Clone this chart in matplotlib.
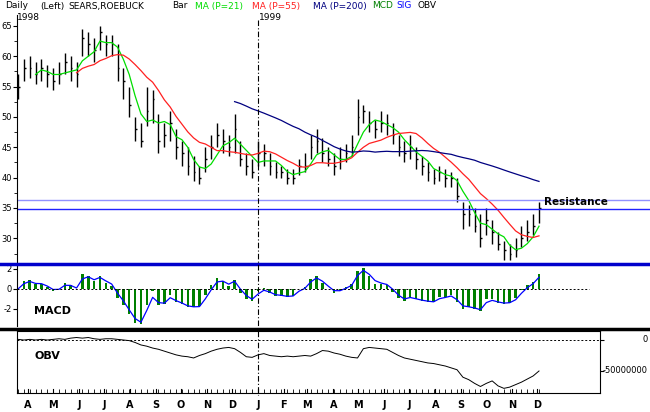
import matplotlib
matplotlib.use("Agg")
import matplotlib.pyplot as plt
import matplotlib.dates as mdates
import numpy as np
import pandas as pd
from matplotlib.lines import Line2D

dates = pd.date_range("1998-03-20", "1999-12-03", freq="W-FRI")
close = [55, 58,
         58, 57, 58, 57,
         56, 57, 59, 58, 57,
         63, 62, 61, 64,
         62, 62, 58, 56, 52,
         48, 46, 51, 53,
         46, 47, 49, 45,
         44, 42, 41, 40, 43,
         45, 47, 46, 45,
         48, 43, 42, 41,
         44, 44, 42, 41, 41,
         40, 40, 42, 42,
         45, 46, 44, 43,
         42, 43, 44, 45, 50,
         51, 49, 48, 49,
         49, 47, 45, 44,
         45, 43, 42, 41, 40,
         41, 40, 40, 37,
         34, 34, 32, 30,
         33, 31, 29, 28, 27.5,
         28, 30, 31, 32,
         35]
high = [57, 59.5,
        60, 59, 59.5, 58.5,
        58, 59, 60.5, 60, 59,
        64.5, 64, 63, 65,
        63.5, 63.5, 62, 58, 55,
        50, 49, 55, 54.5,
        50.5, 49, 51, 48,
        46, 45, 43.5, 42, 45,
        47, 49, 48, 47,
        50.5, 46, 44, 43,
        46, 45.5, 44, 42.5, 42,
        41.5, 41.5, 43, 44,
        47, 48, 46.5, 45,
        44, 45, 45.5, 47, 53,
        52, 51, 49.5, 51,
        50.5, 49, 47, 46,
        47, 45, 43.5, 42.5, 41.5,
        42, 41.5, 41, 40,
        36, 35.5, 35, 34,
        35, 33, 31, 29.5, 29,
        30, 32, 33, 34,
        36]
low = [53, 56,
       56.5, 55.5, 56, 55,
       54.5, 55.5, 57, 56, 55,
       60, 60, 59, 61,
       60, 60, 56, 53, 50,
       46, 45, 48.5, 49,
       44, 45, 46, 43,
       42, 40.5, 39.5, 39, 41,
       43, 45, 44, 43.5,
       44, 42, 40.5, 40,
       42, 42, 40.5, 40, 40,
       39, 39, 40.5, 41,
       43, 44, 42.5, 42,
       40.5, 41.5, 42.5, 43.5, 47,
       49, 47.5, 46.5, 47.5,
       47, 45.5, 43.5, 42.5,
       43, 41.5, 40.5, 39.5, 39,
       39.5, 38.5, 38.5, 36,
       31.5, 32, 31, 28.5,
       30.5, 29, 28, 26.5, 26.5,
       27, 28.5, 29.5, 30.5,
       32.5]
obv = [1, 0,
       1, 0, 1, 0,
       1, 2, 1, 3, 4,
       3, 4, 2, 1,
       2, 2, 1, 0, -1,
       -4, -8, -10, -13,
       -15, -18, -21, -24,
       -26, -27, -29, -25, -22,
       -18, -15, -13, -12,
       -14, -20, -27, -28,
       -24, -22, -25, -26, -27,
       -26, -27, -26, -25,
       -26, -22, -17, -18,
       -21, -23, -26, -28, -29,
       -14, -12, -13, -14,
       -15, -20, -25, -29,
       -31, -33, -35, -37, -38,
       -40, -42, -45, -48,
       -60, -64, -70, -75,
       -70, -66, -74, -78, -76,
       -72, -68, -63, -58,
       -50]
month_labels = ["A", "M", "J", "J", "A", "S", "O", "N", "D", "J", "F", "M",
                "A", "M", "J", "J", "A", "S", "O", "N", "D"]
obv_ticks = [0, -50]
obv_tick_labels = ["0", "-50000000"]
resist_hi, resist_lo = 36.3, 34.8

s = pd.Series(close, index=dates)
ma21 = s.rolling(4).mean()
ma55 = s.rolling(11).mean()
ma200 = s.rolling(38).mean()
macd = s.ewm(span=2.4, adjust=False).mean() - s.ewm(span=5.2, adjust=False).mean()
sig = macd.ewm(span=2.0, adjust=False).mean()

W, H = 650, 412
fig = plt.figure(figsize=(W / 100, H / 100), dpi=100)
plt.rcParams['font.family'] = ['DejaVu Sans']

def rect(x0, y0, x1, y1):
    return [x0 / W, 1 - y1 / H, (x1 - x0) / W, (y1 - y0) / H]

pxday = (539 - 18) / (dates[-1] - dates[0]).days
d0 = mdates.date2num(dates[0]) - 1 / pxday
def xl(xpix_right):
    return (d0, d0 + (xpix_right - 17) / pxday)

axp = fig.add_axes(rect(17, 15, 650, 262))
axm = fig.add_axes(rect(17, 265, 600, 326))
axo = fig.add_axes(rect(17, 331, 600, 393))

dn = mdates.date2num(dates)
axp.vlines(dn, low, high, color="black", lw=1.0)
axp.hlines(close, dn, dn + 2, color="black", lw=1)
axp.plot(dn, ma21, color="#00dd00", lw=0.9)
axp.plot(dn, ma55, color="#ff2020", lw=0.9)
axp.plot(dn, ma200, color="#000080", lw=0.9)
axp.axhline(resist_hi, color="#9090ff", lw=1)
axp.axhline(resist_lo, color="#2020ff", lw=1)
axp.set_xlim(*xl(650))
axp.set_ylim(26.1, 66.8)
axp.set_yticks(range(30, 66, 5))
axp.set_yticks(np.arange(27.5, 66, 2.5), minor=True)
axp.tick_params(axis="y", labelsize=6, length=3, pad=0.5, width=0.8)
axp.tick_params(axis="y", which="minor", length=2)
axp.set_xticks([])
for sp in ["top", "right", "bottom"]:
    axp.spines[sp].set_visible(False)
axp.text(dn[-1] + 6, resist_lo + 0.7, "Resistance", fontsize=7.5, fontweight="bold")

axm.bar(dn, macd, width=3, color="#008000")
axm.plot(dn, sig, color="#0000ff", lw=0.9)
axm.plot([d0, dn[-1] + 60], [0, 0], color="black", lw=0.7, ls=(0, (2, 2)))
axm.set_xlim(*xl(600))
axm.set_ylim(-3.7, 2.4)
axm.set_yticks([-2, 0, 2])
axm.set_yticklabels(["-2", "0", "2"])
axm.tick_params(axis="y", labelsize=6, length=3, pad=0.5)
axm.set_xticks([])
for sp in ["top", "right", "bottom"]:
    axm.spines[sp].set_visible(False)
axm.text(0.03, 0.2, "MACD", transform=axm.transAxes, fontsize=8, fontweight="bold")

axo.plot(dn, obv, color="black", lw=0.7)
axo.axhline(0, color="black", lw=0.7, ls=(0, (2, 2)))
axo.set_xlim(*xl(600))
axo.set_ylim(-85.5, 14.5)
axo.yaxis.tick_right()
axo.set_yticks(obv_ticks)
axo.set_yticklabels([""] * len(obv_ticks))
axo.tick_params(axis="y", length=3)
for v, lab in zip(obv_ticks, obv_tick_labels):
    axo.text(1.0, v, lab, transform=axo.get_yaxis_transform(), fontsize=6,
             ha="right", va="center", clip_on=False).set_x((648 - 17) / (600 - 17))
axo.set_xticks(dn, minor=True)
axo.set_xticks([])
axo.tick_params(axis="x", which="minor", length=3, direction="in")
axo.text(0.03, 0.55, "OBV", transform=axo.transAxes, fontsize=8, fontweight="bold")
for sp in axo.spines.values():
    sp.set_linewidth(0.8)

mstarts = pd.date_range("1998-04-01", "1999-12-01", freq="MS")
for m, lab in zip(mstarts, month_labels):
    x = mdates.date2num(m)
    xp = 17 + (x - d0) * pxday
    fig.text(xp / W, 1 - 405 / H, lab, fontsize=7, fontweight="bold", ha="center", va="center")
for m in mstarts:
    axo.axvline(mdates.date2num(m), ymin=0, ymax=0.07, color="black", lw=0.8)

fig.add_artist(Line2D([0, 1], [1 - 263.5 / H] * 2, color="#0000cc", lw=2.5))
fig.add_artist(Line2D([0, 1], [1 - 328.5 / H] * 2, color="black", lw=2.5))
jx = 17 + (mdates.date2num(pd.Timestamp("1999-01-01")) - d0) * pxday
fig.add_artist(Line2D([jx / W] * 2, [1 - 20 / H, 1 - 395 / H], color="black", lw=0.8, ls=(0, (5, 2, 1, 2))))

hdr = [(5, "Daily", "black"), (40, "(Left)", "black"), (68, "SEARS,ROEBUCK", "black"),
       (172, "Bar", "black"), (195, "MA (P=21)", "#00dd00"), (252, "MA (P=55)", "#ff2020"),
       (313, "MA (P=200)", "#000080"), (372, "MCD", "#008000"), (396, "SIG", "#0000ff"),
       (418, "OBV", "black")]
for x, t, c in hdr:
    fig.text(x / W, 1 - 6 / H, t, fontsize=6.5, color=c, va="center")
fig.text(17 / W, 1 - 18 / H, "1998", fontsize=6.5, va="center")
fig.text((jx + 1) / W, 1 - 18 / H, "1999", fontsize=6.5, va="center")

fig.savefig("out.png", dpi=100)
